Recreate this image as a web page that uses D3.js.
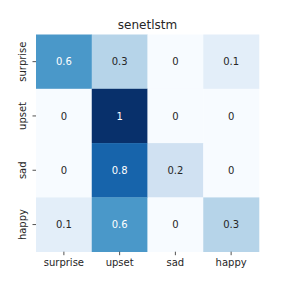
<!DOCTYPE html>
<html>
<head>
<meta charset="utf-8">
<script src="https://cdn.jsdelivr.net/npm/d3@7"></script>
<style>
  body { margin: 0; background: #fff; }
  text { font-family: "DejaVu Sans", sans-serif; }
</style>
</head>
<body>
<svg width="288" height="288"></svg>
<script>
"use strict";

var title = "senetlstm";
var rowLabels = ["surprise", "upset", "sad", "happy"];
var colLabels = ["surprise", "upset", "sad", "happy"];
var values = [
  [0.6, 0.3, 0, 0.1],
  [0, 1, 0, 0],
  [0, 0.8, 0.2, 0],
  [0.1, 0.6, 0, 0.3]
];

var svg = d3.select("svg");
var plotLeft = 36, plotRight = 259, plotTop = 34.5, plotBottom = 251.7;

var x = d3.scaleBand().domain(colLabels).range([plotLeft, plotRight]);
var y = d3.scaleBand().domain(rowLabels).range([plotTop, plotBottom]);

// matplotlib "Blues" stops
var blues = ["#f7fbff", "#deebf7", "#c6dbef", "#9ecae1", "#6baed6",
             "#4292c6", "#2171b5", "#08519c", "#08306b"];
var color = d3.scaleLinear()
    .domain(d3.range(blues.length).map(function(i) { return i / (blues.length - 1); }))
    .range(blues);

var cells = [];
values.forEach(function(row, i) {
  row.forEach(function(v, j) {
    cells.push({ r: rowLabels[i], c: colLabels[j], v: v });
  });
});

svg.selectAll(".cell")
    .data(cells)
    .enter().append("rect")
    .attr("class", "cell")
    .attr("x", function(d) { return x(d.c); })
    .attr("y", function(d) { return y(d.r); })
    .attr("width", x.bandwidth() + 0.3)
    .attr("height", y.bandwidth() + 0.3)
    .attr("fill", function(d) { return color(d.v); });

function textColor(v) {
  var c = d3.rgb(color(v));
  var lum = [c.r, c.g, c.b].map(function(u) {
    u = u / 255;
    return u <= 0.03928 ? u / 12.92 : Math.pow((u + 0.055) / 1.055, 2.4);
  });
  var L = 0.2126 * lum[0] + 0.7152 * lum[1] + 0.0722 * lum[2];
  return L > 0.408 ? "#262626" : "#ffffff";
}

svg.selectAll(".annot")
    .data(cells)
    .enter().append("text")
    .attr("class", "annot")
    .attr("x", function(d) { return x(d.c) + x.bandwidth() / 2; })
    .attr("y", function(d) { return y(d.r) + y.bandwidth() / 2 + 3.6; })
    .attr("text-anchor", "middle")
    .attr("font-size", "10px")
    .attr("fill", function(d) { return textColor(d.v); })
    .text(function(d) { return String(d.v); });

// x axis
var xAxis = svg.append("g")
    .attr("transform", "translate(0," + plotBottom + ")")
    .call(d3.axisBottom(x).tickSize(3.5).tickPadding(3.5));
xAxis.select(".domain").remove();
xAxis.selectAll("line").attr("stroke", "#262626").attr("stroke-width", 0.8);
xAxis.selectAll("text")
    .attr("font-size", "10px")
    .attr("fill", "#262626")
    .attr("font-family", "DejaVu Sans, sans-serif");

// y axis with rotated labels
var yAxis = svg.append("g")
    .attr("transform", "translate(" + plotLeft + ",0)")
    .call(d3.axisLeft(y).tickSize(3.5));
yAxis.select(".domain").remove();
yAxis.selectAll("line").attr("stroke", "#262626").attr("stroke-width", 0.8);
yAxis.selectAll("text").remove();
yAxis.selectAll(".tick").append("text")
    .attr("transform", "translate(-10,0) rotate(-90)")
    .attr("text-anchor", "middle")
    .attr("font-size", "10px")
    .attr("fill", "#262626")
    .attr("font-family", "DejaVu Sans, sans-serif")
    .text(function(d) { return d; });

svg.append("text")
    .attr("x", (plotLeft + plotRight) / 2)
    .attr("y", 28.5)
    .attr("text-anchor", "middle")
    .attr("font-size", "12px")
    .attr("fill", "#262626")
    .text(title);
</script>
</body>
</html>
